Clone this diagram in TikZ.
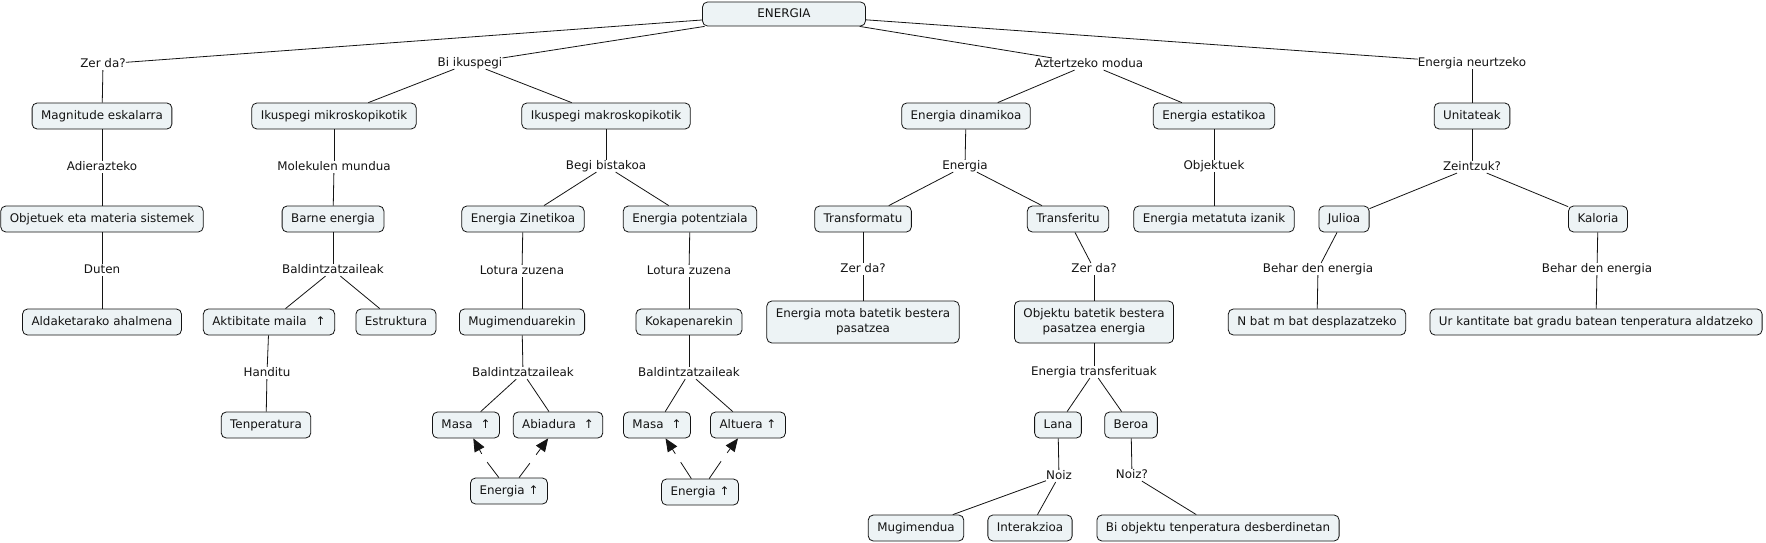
\documentclass[tikz,border=0pt]{standalone}
\usepackage{fontspec}
\setmainfont{DejaVu Sans}
\usetikzlibrary{arrows.meta}
\definecolor{boxfill}{RGB}{237,243,245}
\definecolor{inkc}{RGB}{20,20,20}
\newcommand\cmapfont{\fontsize{11.9}{15}\selectfont}
\begin{document}
\begin{tikzpicture}[x=1pt,y=-1pt,
  concept/.style={draw=inkc, line width=0.8pt, rounded corners=5pt, fill=boxfill,
    inner xsep=9pt, inner ysep=0pt, minimum height=26pt, text=inkc, font=\cmapfont,
    text height=9pt, text depth=2.8pt},
  concepttwo/.style={draw=inkc, line width=0.8pt, rounded corners=5pt, fill=boxfill,
    inner xsep=9pt, inner ysep=5pt, minimum height=42pt, text=inkc, font=\cmapfont, align=center},
  linkl/.style={inner sep=0pt, text=inkc, font=\cmapfont, text height=9pt, text depth=2.8pt},
  gapnode/.style={inner sep=0pt, minimum size=8pt},
  conn/.style={draw=inkc, line width=0.8pt},
  arr/.style={draw=inkc, line width=0.8pt, -{Triangle[length=13pt,width=11pt]}}
]
\fill[white] (0,0) rectangle (1766,543);
\useasboundingbox (0,0) rectangle (1766,543);

% concepts
\node[concept, minimum width=163pt, minimum height=24pt] (energia) at (784,14) {ENERGIA};
\node[concept] (magn) at (102,116) {Magnitude eskalarra};
\node[concept] (mikro) at (334,116) {Ikuspegi mikroskopikotik};
\node[concept] (makro) at (606,116) {Ikuspegi makroskopikotik};
\node[concept] (dinam) at (966,116) {Energia dinamikoa};
\node[concept] (estat) at (1214,116) {Energia estatikoa};
\node[concept] (unit) at (1472,116) {Unitateak};
\node[concept] (objet) at (102,219) {Objetuek eta materia sistemek};
\node[concept] (barne) at (333,219) {Barne energia};
\node[concept] (zinet) at (523,219) {Energia Zinetikoa};
\node[concept] (poten) at (690,219) {Energia potentziala};
\node[concept] (transfo) at (863,219) {Transformatu};
\node[concept] (transfe) at (1068,219) {Transferitu};
\node[concept] (metat) at (1214,219) {Energia metatuta izanik};
\node[concept] (julio) at (1344,219) {Julioa};
\node[concept] (kalor) at (1598,219) {Kaloria};
\node[concept] (aldak) at (102,322) {Aldaketarako ahalmena};
\node[concept] (aktib) at (269,322) {Aktibitate maila\hspace{9pt}↑};
\node[concept] (estru) at (396,322) {Estruktura};
\node[concept] (mugimen) at (522,322) {Mugimenduarekin};
\node[concept] (kokap) at (689,322) {Kokapenarekin};
\node[concepttwo] (motab) at (863,322) {Energia mota batetik bestera\\pasatzea};
\node[concepttwo] (objektu) at (1094,322) {Objektu batetik bestera\\pasatzea energia};
\node[concept] (nbat) at (1317,322) {N bat m bat desplazatzeko};
\node[concept] (ur) at (1596,322) {Ur kantitate bat gradu batean tenperatura aldatzeko};
\node[concept] (tenp) at (266,425) {Tenperatura};
\node[concept] (masa1) at (466,425) {Masa\hspace{8pt}↑};
\node[concept] (abiad) at (558,425) {Abiadura\hspace{8pt}↑};
\node[concept] (masa2) at (657,425) {Masa\hspace{8pt}↑};
\node[concept] (altue) at (748,425) {Altuera ↑};
\node[concept] (lana) at (1058,425) {Lana};
\node[concept] (beroa) at (1131,425) {Beroa};
\node[concept] (eng1) at (509,491) {Energia ↑};
\node[concept] (eng2) at (700,492) {Energia ↑};
\node[concept] (mugi) at (916,528) {Mugimendua};
\node[concept] (inter) at (1030,528) {Interakzioa};
\node[concept] (biobj) at (1218,528) {Bi objektu tenperatura desberdinetan};

% linking phrases
\node[linkl] (l1) at (103,64) {Zer da?};
\node[linkl] (l2) at (470,63) {Bi ikuspegi};
\node[linkl] (l3) at (1089,64) {Aztertzeko modua};
\node[linkl] (l4) at (1472,63) {Energia neurtzeko};
\node[linkl] (l5) at (102,167) {Adierazteko};
\node[linkl] (l6) at (334,167) {Molekulen mundua};
\node[linkl] (l7) at (606,166) {Begi bistakoa};
\node[linkl] (l8) at (965,166) {Energia};
\node[linkl] (l9) at (1214,166) {Objektuek};
\node[linkl] (l10) at (1472,167) {Zeintzuk?};
\node[linkl] (l11) at (102,270) {Duten};
\node[linkl] (l12) at (333,270) {Baldintzatzaileak};
\node[linkl] (l13) at (522,271) {Lotura zuzena};
\node[linkl] (l14) at (689,271) {Lotura zuzena};
\node[linkl] (l15) at (863,269) {Zer da?};
\node[linkl] (l16) at (1094,269) {Zer da?};
\node[linkl] (l17) at (1318,269) {Behar den energia};
\node[linkl] (l18) at (1597,269) {Behar den energia};
\node[linkl] (l19) at (267,373) {Handitu};
\node[linkl] (l20) at (523,373) {Baldintzatzaileak};
\node[linkl] (l21) at (689,373) {Baldintzatzaileak};
\node[linkl] (l22) at (1094,372) {Energia transferituak};
\node[linkl] (l23) at (1059,476) {Noiz};
\node[linkl] (l24) at (1132,475) {Noiz?};

% empty linking phrases (gaps)
\node[gapnode] (g1) at (484,458) {};
\node[gapnode] (g2) at (533,459) {};
\node[gapnode] (g3) at (678,458) {};
\node[gapnode] (g4) at (724,457) {};

% connectors
\draw[conn] (energia) -- (l1);
\draw[conn] (l1) -- (magn);
\draw[conn] (energia) -- (l2);
\draw[conn] (l2) -- (mikro);
\draw[conn] (l2) -- (makro);
\draw[conn] (energia) -- (l3);
\draw[conn] (l3) -- (dinam);
\draw[conn] (l3) -- (estat);
\draw[conn] (energia) -- (l4);
\draw[conn] (l4) -- (unit);
\draw[conn] (magn) -- (l5);
\draw[conn] (l5) -- (objet);
\draw[conn] (objet) -- (l11);
\draw[conn] (l11) -- (aldak);
\draw[conn] (mikro) -- (l6);
\draw[conn] (l6) -- (barne);
\draw[conn] (barne) -- (l12);
\draw[conn] (l12) -- (aktib);
\draw[conn] (l12) -- (estru);
\draw[conn] (aktib) -- (l19);
\draw[conn] (l19) -- (tenp);
\draw[conn] (makro) -- (l7);
\draw[conn] (l7) -- (zinet);
\draw[conn] (l7) -- (poten);
\draw[conn] (zinet) -- (l13);
\draw[conn] (l13) -- (mugimen);
\draw[conn] (mugimen) -- (l20);
\draw[conn] (l20) -- (masa1);
\draw[conn] (l20) -- (abiad);
\draw[conn] (poten) -- (l14);
\draw[conn] (l14) -- (kokap);
\draw[conn] (kokap) -- (l21);
\draw[conn] (l21) -- (masa2);
\draw[conn] (l21) -- (altue);
\draw[conn] (eng1) -- (g1);
\draw[arr] (g1) -- (masa1);
\draw[conn] (eng1) -- (g2);
\draw[arr] (g2) -- (abiad);
\draw[conn] (eng2) -- (g3);
\draw[arr] (g3) -- (masa2);
\draw[conn] (eng2) -- (g4);
\draw[arr] (g4) -- (altue);
\draw[conn] (dinam) -- (l8);
\draw[conn] (l8) -- (transfo);
\draw[conn] (l8) -- (transfe);
\draw[conn] (transfo) -- (l15);
\draw[conn] (l15) -- (motab);
\draw[conn] (transfe) -- (l16);
\draw[conn] (l16) -- (objektu);
\draw[conn] (objektu) -- (l22);
\draw[conn] (l22) -- (lana);
\draw[conn] (l22) -- (beroa);
\draw[conn] (lana) -- (l23);
\draw[conn] (l23) -- (mugi);
\draw[conn] (l23) -- (inter);
\draw[conn] (beroa) -- (l24);
\draw[conn] (l24) -- (biobj);
\draw[conn] (estat) -- (l9);
\draw[conn] (l9) -- (metat);
\draw[conn] (unit) -- (l10);
\draw[conn] (l10) -- (julio);
\draw[conn] (l10) -- (kalor);
\draw[conn] (julio) -- (l17);
\draw[conn] (l17) -- (nbat);
\draw[conn] (kalor) -- (l18);
\draw[conn] (l18) -- (ur);
\end{tikzpicture}
\end{document}
